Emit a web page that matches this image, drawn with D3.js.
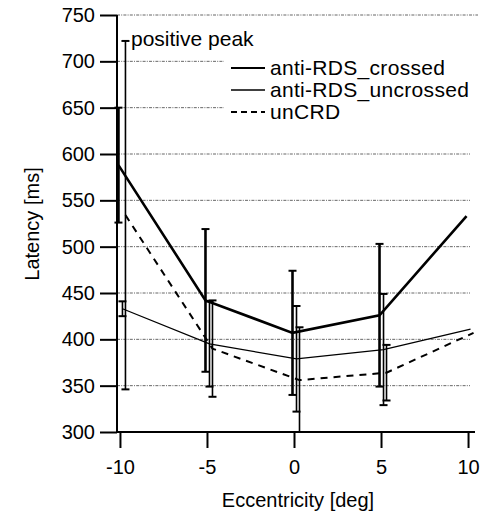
<!DOCTYPE html>
<html>
<head>
<meta charset="utf-8">
<script src="https://cdn.jsdelivr.net/npm/d3@7"></script>
<style>
  html, body { margin: 0; padding: 0; background: #fff; }
  svg { display: block; }
  text { font-family: "Liberation Sans", Arial, Helvetica, sans-serif; fill: #000; }
</style>
</head>
<body>
<svg id="chart" width="483" height="513"></svg>
<script>
// Eccentricity positions (deg)
const eccentricity = [-10, -5, 0, 5, 10];

// Mean latency (ms) and error half-widths per condition (null = no bar)
const crossedMean   = [588, 442, 407, 426, 533];
const crossedErr    = [62, 77, 67, 77, null];
const uncrossedMean = [433, 395, 379, 389, 411];
const uncrossedErr  = [8, 46, 57, 60, null];
const uncrdMean     = [534, 390, 356, 364, 407];
const uncrdErr      = [188, 52, 57, 30, null];

// Tick values and labels
const yTicks = [300, 350, 400, 450, 500, 550, 600, 650, 700, 750];
const xTicks = [-10, -5, 0, 5, 10];
const xTickLabels = ["-10", "-5", "0", "5", "10"];
const seriesNames = ["anti-RDS_crossed", "anti-RDS_uncrossed", "unCRD"];

const svg = d3.select("#chart");

const x = d3.scaleLinear().domain([-10.17, 10.4]).range([117, 475]);
const y = d3.scaleLinear().domain([300, 750]).range([432, 15]);

// clip region for data marks: the plotting area vertically
svg.append("defs").append("clipPath").attr("id", "plotClip")
  .append("rect").attr("x", 0).attr("y", y(750)).attr("width", 483).attr("height", y(300) - y(750));

// Horizontal grid lines (short ones stop before the legend)
const gridStyle = { stroke: "#333", width: 0.75, dash: "3,1.2,1,1.2" };
const gridEnd = v => (v === 700 || v === 650) ? 224 : (v === 750 ? 478 : 470);
svg.append("g").selectAll("line")
  .data(yTicks.filter(v => v > 300))
  .join("line")
  .attr("x1", x(-10.17)).attr("x2", d => gridEnd(d))
  .attr("y1", d => y(d)).attr("y2", d => y(d))
  .attr("stroke", gridStyle.stroke)
  .attr("stroke-width", gridStyle.width)
  .attr("stroke-dasharray", gridStyle.dash);

// Axes
const yAxis = d3.axisLeft(y).tickValues(yTicks).tickSize(17).tickPadding(5).tickFormat(d => String(d));
const gy = svg.append("g").attr("transform", `translate(${x(-10.17)},0)`).call(yAxis);
const xAxis = d3.axisBottom(x).tickValues(xTicks).tickSize(16).tickPadding(12)
  .tickFormat((d, i) => xTickLabels[i]);
const gx = svg.append("g").attr("transform", `translate(0,${y(300)})`).call(xAxis);

[gx, gy].forEach(g => {
  g.select(".domain").attr("stroke", "#000").attr("stroke-width", 2);
  g.selectAll(".tick line").attr("stroke", "#000").attr("stroke-width", 2);
  g.selectAll(".tick text").attr("font-size", 20)
    .attr("font-family", '"Liberation Sans", Arial, Helvetica, sans-serif');
});
gx.select(".domain").attr("d", `M${x(-10.17)},0H475`);
gy.select(".domain").attr("d", `M0,${y(300)}V${y(750)}`);

// Series definitions: data + drawing style
const series = [
  { name: seriesNames[0], mean: crossedMean, err: crossedErr, dodge: -1.5, lw: 2.6, bw: 2.6, dash: null },
  { name: seriesNames[1], mean: uncrossedMean, err: uncrossedErr, dodge: 2.5, lw: 1.3, bw: 1.6, dash: null },
  { name: seriesNames[2], mean: uncrdMean, err: uncrdErr, dodge: 5.5, lw: 2.0, bw: 1.6, dash: "7,6" }
];

const plot = svg.append("g").attr("clip-path", "url(#plotClip)");

series.forEach(s => {
  const pts = eccentricity.map((e, i) => ({ e, m: s.mean[i], r: s.err[i] }));

  // error bars
  const bars = plot.append("g");
  pts.filter(p => p.r != null).forEach(p => {
    const cx = x(p.e) + s.dodge;
    bars.append("line")
      .attr("x1", cx).attr("x2", cx)
      .attr("y1", y(p.m - p.r)).attr("y2", y(p.m + p.r))
      .attr("stroke", "#000").attr("stroke-width", s.bw);
    [p.m - p.r, p.m + p.r].forEach(v => {
      bars.append("line")
        .attr("x1", cx - 4).attr("x2", cx + 4)
        .attr("y1", y(v)).attr("y2", y(v))
        .attr("stroke", "#000").attr("stroke-width", 2);
    });
  });

  // mean line
  const line = d3.line().x(p => x(p.e) + s.dodge).y(p => y(p.m));
  plot.append("path")
    .datum(pts)
    .attr("d", line)
    .attr("fill", "none")
    .attr("stroke", "#000")
    .attr("stroke-width", s.lw)
    .attr("stroke-dasharray", s.dash);
});

// Legend
const legend = svg.append("g");
const legendRows = [68, 90, 112];
series.forEach((s, i) => {
  legend.append("line")
    .attr("x1", 231).attr("x2", 265)
    .attr("y1", legendRows[i]).attr("y2", legendRows[i])
    .attr("stroke", "#000")
    .attr("stroke-width", i === 1 ? 1.3 : 1.8)
    .attr("stroke-dasharray", i === 2 ? "6,4" : null);
  legend.append("text")
    .attr("x", 270).attr("y", legendRows[i] + 7)
    .attr("font-size", 21)
    .attr("letter-spacing", 0.3)
    .text(s.name);
});

// Annotation
svg.append("text").attr("x", 131).attr("y", 46).attr("font-size", 21).text("positive peak");

// Axis titles
svg.append("text")
  .attr("x", 298).attr("y", 507)
  .attr("text-anchor", "middle").attr("font-size", 20)
  .text("Eccentricity [deg]");
svg.append("text")
  .attr("transform", "translate(39,224) rotate(-90)")
  .attr("text-anchor", "middle").attr("font-size", 20)
  .text("Latency [ms]");
</script>
</body>
</html>
